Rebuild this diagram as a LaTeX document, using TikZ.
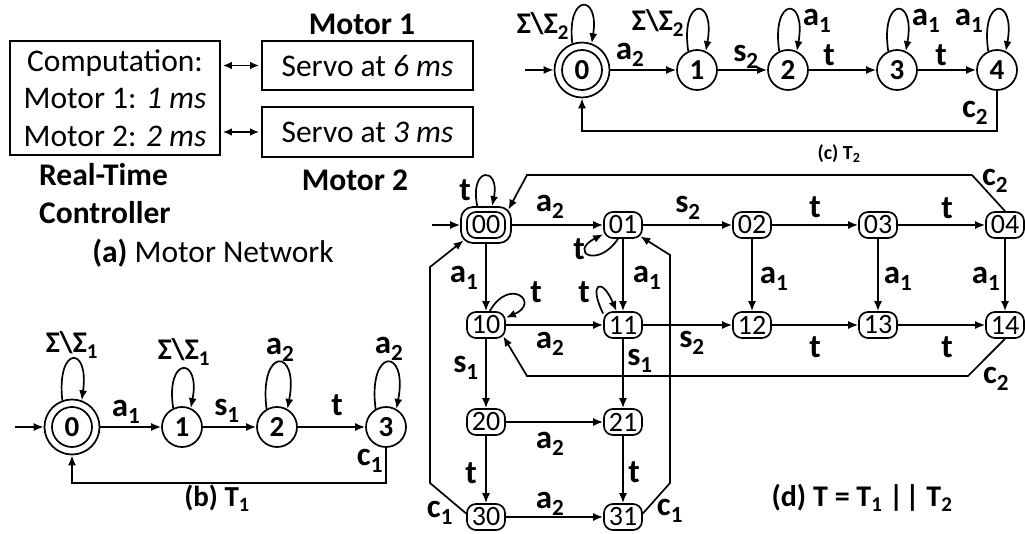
\documentclass[tikz,border=0pt]{standalone}
\usepackage{fontspec}
\setmainfont{Carlito}
\usetikzlibrary{arrows.meta,calc}
\begin{document}
\begin{tikzpicture}[x=1pt,y=-1pt,
  ln/.style={line width=1.7pt},
  arr/.style={ln,-{Latex[length=10pt,width=8pt]}},
  darr/.style={ln,{Latex[length=9pt,width=7.5pt]}-{Latex[length=9pt,width=7.5pt]}},
  box/.style={draw,ln,inner sep=0pt},
  tst/.style={circle,draw,ln,minimum size=40pt,inner sep=0pt,font=\bfseries\fontsize{29}{32}\selectfont},
  tout/.style={circle,draw,ln,minimum size=55pt,inner sep=0pt},
  lbl/.style={inner sep=0pt,font=\bfseries\fontsize{33}{37}\selectfont},
  sig/.style={inner sep=0pt,font=\bfseries\fontsize{30}{33}\selectfont},
  dst/.style={draw,ln,rounded corners=9pt,minimum width=38pt,minimum height=26pt,inner sep=0pt,font=\fontsize{28}{30}\selectfont},
  dout/.style={draw,ln,rounded corners=12pt,minimum width=50pt,minimum height=36pt,inner sep=0pt},
  btxt/.style={inner sep=0pt,font=\bfseries\fontsize{31.5}{35}\selectfont},
]
\useasboundingbox (0,0) rectangle (1025,534);

% ---------- (a) ----------
\node[box,minimum width=210pt,minimum height=114pt,align=center,font=\fontsize{31.5}{37.5}\selectfont] (ctrl) at (115,98)
  {Computation:\\Motor 1: \textit{1 ms}\\Motor 2: \textit{2 ms}};
\node[box,minimum width=211pt,minimum height=49pt,font=\fontsize{31.5}{36}\selectfont] (servo1) at (367.5,65.5) {Servo at \textit{6 ms}};
\node[box,minimum width=211pt,minimum height=50pt,font=\fontsize{31.5}{36}\selectfont] (servo2) at (367.5,132) {Servo at \textit{3 ms}};
\draw[darr,shorten <=2pt,shorten >=2pt] (ctrl.east |- servo1) -- (servo1.west);
\draw[darr,shorten <=2pt,shorten >=2pt] (ctrl.east |- servo2) -- (servo2.west);
\node[btxt] (mot1) at (362,24) {Motor 1};
\node[btxt] (mot2) at (355,180) {Motor 2};
\node[btxt,anchor=west] (rtime) at (39,175) {Real-Time};
\node[btxt,anchor=west] (rctl) at (39,213) {Controller};
\node[inner sep=0pt,font=\fontsize{31.5}{36}\selectfont] (capa) at (213,253) {\textbf{(a)} Motor Network};

% ---------- (c) T2 ----------
\node[tout] (t2s0) at (582,70) {};
\node[tst] (t2s0in) at (582,70) {0};
\node[tst] (t2s1) at (697,70) {1};
\node[tst] (t2s2) at (788,70) {2};
\node[tst] (t2s3) at (897,70) {3};
\node[tst] (t2s4) at (997,70) {4};
\coordinate (t2init) at (525,70);
\draw[arr] (t2init) -- (t2s0);
\draw[arr] (t2s0) -- (t2s1);
\draw[arr] (t2s1) -- (t2s2);
\draw[arr] (t2s2) -- (t2s3);
\draw[arr] (t2s3) -- (t2s4);
\draw[arr] (t2s4.south) -- ++(0,40) -| (t2s0.south);
\draw[arr] (t2s0.110) .. controls +(-6,-50) and +(8,-50) .. (t2s0.70);
\foreach \n in {t2s1,t2s2,t2s3,t2s4}
  \draw[arr] (\n.115) .. controls +(-8,-55) and +(10,-55) .. (\n.65);
\node[sig] (t2l0) at (543,26) {Σ\textbackslash Σ\textsubscript{2}};
\node[sig] (t2l1) at (658,23) {Σ\textbackslash Σ\textsubscript{2}};
\node[lbl] (t2la) at (630,55) {a\textsubscript{2}};
\node[lbl] (t2ls) at (746,57) {s\textsubscript{2}};
\node[lbl] (t2lt1) at (829,55) {t};
\node[lbl] (t2lt2) at (941,55) {t};
\node[lbl] (t2l2) at (817,21) {a\textsubscript{1}};
\node[lbl] (t2l3) at (926,21) {a\textsubscript{1}};
\node[lbl] (t2l4) at (969,21) {a\textsubscript{1}};
\node[lbl] (t2lc) at (975,113) {c\textsubscript{2}};
\node[inner sep=0pt,font=\bfseries\fontsize{20}{23}\selectfont] (capc) at (839,154) {(c) T\textsubscript{2}};

% ---------- (b) T1 ----------
\node[tout] (t1s0) at (72,427) {};
\node[tst] (t1s0in) at (72,427) {0};
\node[tst] (t1s1) at (182,427) {1};
\node[tst] (t1s2) at (277,427) {2};
\node[tst] (t1s3) at (386,427) {3};
\coordinate (t1init) at (15,427);
\draw[arr] (t1init) -- (t1s0);
\draw[arr] (t1s0) -- (t1s1);
\draw[arr] (t1s1) -- (t1s2);
\draw[arr] (t1s2) -- (t1s3);
\draw[arr] (t1s3.south) -- ++(0,35) -| (t1s0.south);
\draw[arr] (t1s0.110) .. controls +(-6,-55) and +(8,-55) .. (t1s0.70);
\draw[arr] (t1s1.115) .. controls +(-8,-52) and +(10,-52) .. (t1s1.65);
\draw[arr] (t1s2.120) .. controls +(-8,-62) and +(12,-62) .. (t1s2.60);
\draw[arr] (t1s3.120) .. controls +(-8,-62) and +(12,-62) .. (t1s3.60);
\node[sig] (t1l0) at (72,345) {Σ\textbackslash Σ\textsubscript{1}};
\node[sig] (t1l1) at (184,352) {Σ\textbackslash Σ\textsubscript{1}};
\node[lbl] (t1l2) at (280,350) {a\textsubscript{2}};
\node[lbl] (t1l3) at (389,349) {a\textsubscript{2}};
\node[lbl] (t1la) at (126,412) {a\textsubscript{1}};
\node[lbl] (t1ls) at (227,411) {s\textsubscript{1}};
\node[lbl] (t1lt) at (337,405) {t};
\node[lbl] (t1lc) at (370,461) {c\textsubscript{1}};
\node[inner sep=0pt,font=\bfseries\fontsize{29}{32}\selectfont] (capb) at (217,498) {(b) T\textsubscript{1}};

% ---------- (d) T = T1 || T2 ----------
\node[dout] (d00) at (486,225) {};
\node[dst] (d00in) at (486,225) {00};
\node[dst] (d01) at (623,225) {01};
\node[dst] (d02) at (752,225) {02};
\node[dst] (d03) at (878,225) {03};
\node[dst] (d04) at (1005,225) {04};
\node[dst] (d10) at (486,325) {10};
\node[dst] (d11) at (623,325) {11};
\node[dst] (d12) at (752,325) {12};
\node[dst] (d13) at (878,325) {13};
\node[dst] (d14) at (1005,325) {14};
\node[dst] (d20) at (486,422) {20};
\node[dst] (d21) at (623,422) {21};
\node[dst] (d30) at (486,517) {30};
\node[dst] (d31) at (623,517) {31};
\coordinate (dinit) at (432,225);
\draw[arr] (dinit) -- (d00);
\draw[arr] (d00) -- (d01);
\draw[arr] (d01) -- (d02);
\draw[arr] (d02) -- (d03);
\draw[arr] (d03) -- (d04);
\draw[arr] (d10) -- (d11);
\draw[arr] (d11) -- (d12);
\draw[arr] (d12) -- (d13);
\draw[arr] (d13) -- (d14);
\draw[arr] (d00) -- (d10);
\draw[arr] (d01) -- (d11);
\draw[arr] (d02) -- (d12);
\draw[arr] (d03) -- (d13);
\draw[arr] (d04) -- (d14);
\draw[arr] (d10) -- (d20);
\draw[arr] (d11) -- (d21);
\draw[arr] (d20) -- (d21);
\draw[arr] (d20) -- (d30);
\draw[arr] (d21) -- (d31);
\draw[arr] (d30) -- (d31);
% c2 edges
\draw[arr] (d04.north) -- (972,175) -- (527,175) -- ($(d00.north east)+(-3.5,3.5)$);
\draw[arr] (d14.south) -- (968,376) -- (527,376) -- ($(d10.south east)+(-2.6,-2.6)$);
% c1 edges
\draw[arr] (d30.170) -- (430,483) -- (430,267) -- ($(d00.south west)+(3.5,-3.5)$);
\draw[arr] (d31.10) -- (670,483) -- (670,255) -- ($(d01.south east)+(-2.6,-2.6)$);
% self loops
\draw[arr] (d00.115) .. controls +(-8,-40) and +(8,-40) .. (d00.72);
\draw[arr] (d01.250) .. controls +(-20,30) and +(-35,18) .. (d01.205);
\draw[arr] (d10.75) .. controls +(20,-35) and +(35,-15) .. (d10.20);
\draw[arr] (d11.150) .. controls +(-15,-30) and +(-15,-35) .. (d11.115);
% labels
\node[lbl] (dlt00) at (465,190) {t};
\node[lbl] (dlt01) at (579,249) {t};
\node[lbl] (dlt10) at (536,292) {t};
\node[lbl] (dlt11) at (584,292) {t};
\node[lbl] (dl1) at (550,207) {a\textsubscript{2}};
\node[lbl] (dl2) at (688,208) {s\textsubscript{2}};
\node[lbl] (dl3) at (815,207) {t};
\node[lbl] (dl4) at (947,208) {t};
\node[lbl] (dl5) at (464,278) {a\textsubscript{1}};
\node[lbl] (dl6) at (647,278) {a\textsubscript{1}};
\node[lbl] (dl7) at (774,279) {a\textsubscript{1}};
\node[lbl] (dl8) at (898,279) {a\textsubscript{1}};
\node[lbl] (dl9) at (986,279) {a\textsubscript{1}};
\node[lbl] (dl10) at (550,344) {a\textsubscript{2}};
\node[lbl] (dl11) at (692,343) {s\textsubscript{2}};
\node[lbl] (dl12) at (815,347) {t};
\node[lbl] (dl13) at (947,347) {t};
\node[lbl] (dl14) at (466,368) {s\textsubscript{1}};
\node[lbl] (dl15) at (640,361) {s\textsubscript{1}};
\node[lbl] (dl16) at (550,444) {a\textsubscript{2}};
\node[lbl] (dl17) at (471,473) {t};
\node[lbl] (dl18) at (634,472) {t};
\node[lbl] (dl19) at (550,504) {a\textsubscript{2}};
\node[lbl] (dl20) at (440,513) {c\textsubscript{1}};
\node[lbl] (dl21) at (670,511) {c\textsubscript{1}};
\node[lbl] (dl22) at (995,181) {c\textsubscript{2}};
\node[lbl] (dl23) at (996,379) {c\textsubscript{2}};
\node[inner sep=0pt,font=\bfseries\fontsize{30}{34}\selectfont] (capd) at (862,498) {(d) T = T\textsubscript{1} |\kern2pt| T\textsubscript{2}};
\end{tikzpicture}
\end{document}
